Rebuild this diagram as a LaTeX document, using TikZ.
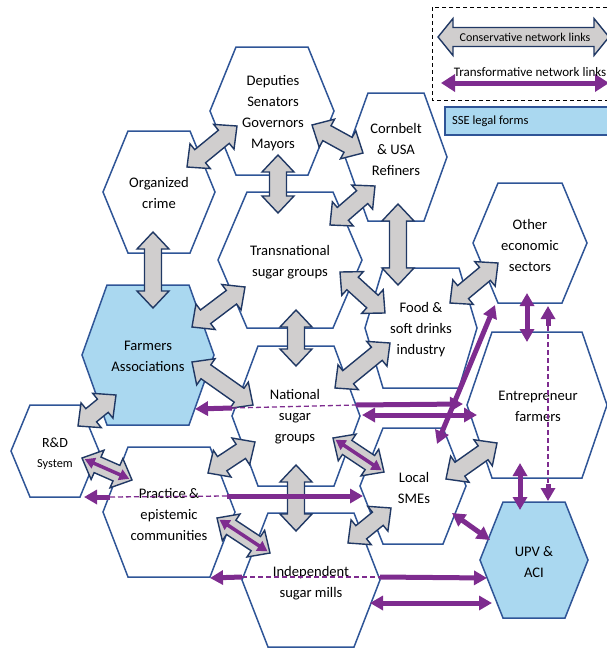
\documentclass[tikz,border=0pt]{standalone}
\usepackage{fontspec}
\setmainfont{Carlito}
\usetikzlibrary{arrows.meta,calc}

\definecolor{hexblue}{RGB}{47,85,151}
\definecolor{navyline}{RGB}{32,56,100}
\definecolor{linkgray}{RGB}{208,206,206}
\definecolor{ssefill}{RGB}{170,216,240}
\definecolor{tpurple}{RGB}{126,44,143}

% flat-topped hexagon: [style]{cx}{cy}{half width}{half height}{half top edge}
\newcommand\hexcell[6][]{%
  \draw[hexline,#1] ({#2-#4},#3) -- ({#2-#6},{#3-#5}) -- ({#2+#6},{#3-#5})
    -- ({#2+#4},#3) -- ({#2+#6},{#3+#5}) -- ({#2-#6},{#3+#5}) -- cycle;}

% double-headed block arrow between two named coordinates
\def\bhl{17pt}\def\bhw{16pt}\def\bsw{8.5pt}
\newcommand\blockarrow[3][]{%
  \begingroup#1%
  \draw[conslink] (#2)
    -- ($(#2)!\bhl!(#3)!\bhw!90:(#3)$) -- ($(#2)!\bhl!(#3)!\bsw!90:(#3)$)
    -- ($(#3)!\bhl!(#2)!\bsw!-90:(#2)$) -- ($(#3)!\bhl!(#2)!\bhw!-90:(#2)$)
    -- (#3)
    -- ($(#3)!\bhl!(#2)!\bhw!90:(#2)$) -- ($(#3)!\bhl!(#2)!\bsw!90:(#2)$)
    -- ($(#2)!\bhl!(#3)!\bsw!-90:(#3)$) -- ($(#2)!\bhl!(#3)!\bhw!-90:(#3)$)
    -- cycle;
  \endgroup}

\tikzset{
  hexline/.style={draw=hexblue, line width=1.5pt, fill=white, line join=miter},
  ssecell/.style={fill=ssefill},
  conslink/.style={draw=navyline, line width=1.4pt, fill=linkgray, line join=miter},
  lbl/.style={align=center, inner sep=0pt, font=\fontsize{14.6}{21}\selectfont},
  tl/.style={draw=tpurple, line width=5pt},
  tlboth/.style={tl, arrows={Triangle[length=13pt,width=14pt]-Triangle[length=13pt,width=14pt]}},
  tlstart/.style={tl, arrows={Triangle[length=13pt,width=14pt]-}},
  tlend/.style={tl, arrows={-Triangle[length=13pt,width=14pt]}},
  tlinner/.style={draw=tpurple, line width=3.5pt,
    arrows={Triangle[length=10pt,width=11pt]-Triangle[length=10pt,width=11pt]}},
  tldash/.style={draw=tpurple, line width=1.3pt, dash pattern=on 5pt off 3pt},
}

\begin{document}
\begin{tikzpicture}[x=1pt, y=-1pt]
\useasboundingbox (0,0) rectangle (607,651);

% ---------- hexagons ----------
\hexcell{272}{111}{62}{64}{36}
\hexcell{159}{192}{56}{61}{31}
\hexcell{396}{157}{51}{64}{28}
\hexcell{290}{260}{72}{68}{43}
\hexcell[ssecell]{148}{355}{66}{70}{41}
\hexcell{421}{328}{56}{60}{38}
\hexcell{530}{243}{57}{60}{32}
\hexcell{537}{405}{70}{73}{45}
\hexcell{296}{416}{64}{70}{38}
\hexcell{413}{486}{53}{58}{30}
\hexcell[ssecell]{534}{560}{54}{58}{31}
\hexcell{311}{580}{69}{67}{43}
\hexcell{169}{512}{66}{65}{41}
\hexcell{55}{451}{44}{46}{25}

% ---------- labels ----------
\node[lbl] (deputies) at (273,113) {Deputies\\Senators\\Governors\\Mayors};
\node[lbl] (crime) at (159,193) {Organized\\crime};
\node[lbl] (cornbelt) at (396,149) {Cornbelt\\\& USA\\Refiners};
\node[lbl] (transnat) at (290,262) {Transnational\\sugar groups};
\node[lbl] (farmers) at (148,356) {Farmers\\Associations};
\node[lbl] (food) at (421,330) {Food \&\\soft drinks\\industry};
\node[lbl] (other) at (530,245) {Other\\economic\\sectors};
\node[lbl] (entre) at (538,406) {Entrepreneur\\farmers};
\node[lbl] (national) at (295,417) {National\\sugar\\groups};
\node[lbl] (smes) at (414,488) {Local\\SMEs};
\node[lbl] (upv) at (534,562) {UPV \&\\ACI};
\node[lbl] (mills) at (311,583) {Independent\\sugar mills};
\node[lbl] (practice) at (169,514) {Practice \&\\epistemic\\communities};
\node[inner sep=0pt, font=\fontsize{14}{16}\selectfont] (rd) at (55,443) {R\&D};
\node[inner sep=0pt, font=\fontsize{12.3}{14}\selectfont] (rdsys) at (55,464) {System};

% ---------- conservative links ----------
\coordinate (g1a) at (187,167);  \coordinate (g1b) at (237,126);
\coordinate (g2a) at (312,125);  \coordinate (g2b) at (363,153);
\coordinate (g3a) at (278,155);  \coordinate (g3b) at (278,213);
\coordinate (g4a) at (330,225);  \coordinate (g4b) at (375,186);
\coordinate (g5a) at (398,204);  \coordinate (g5b) at (398,285);
\coordinate (g6a) at (153,232);  \coordinate (g6b) at (153,308);
\coordinate (g7a) at (192,327);  \coordinate (g7b) at (245,287);
\coordinate (g8a) at (340,272);  \coordinate (g8b) at (385,313);
\coordinate (g9a) at (296,310);  \coordinate (g9b) at (296,366);
\coordinate (g10a) at (192,362); \coordinate (g10b) at (253,405);
\coordinate (g11a) at (335,388); \coordinate (g11b) at (390,343);
\coordinate (g12a) at (450,303); \coordinate (g12b) at (498,263);
\coordinate (g13a) at (78,426);  \coordinate (g13b) at (116,395);
\coordinate (g14a) at (82,458);  \coordinate (g14b) at (132,480);
\coordinate (g15a) at (208,473); \coordinate (g15b) at (255,442);
\coordinate (g16a) at (217,518); \coordinate (g16b) at (270,553);
\coordinate (g17a) at (296,465); \coordinate (g17b) at (296,531);
\coordinate (g18a) at (333,438); \coordinate (g18b) at (384,472);
\coordinate (g19a) at (348,543); \coordinate (g19b) at (391,508);
\coordinate (g20a) at (446,479); \coordinate (g20b) at (497,443);

\foreach \k in {1,...,20} {\blockarrow{g\k a}{g\k b}}

% transformative links running inside conservative ones
\draw[tlinner] ($(g14a)!3pt!(g14b)$) -- ($(g14b)!3pt!(g14a)$);
\draw[tlinner] ($(g16a)!3pt!(g16b)$) -- ($(g16b)!3pt!(g16a)$);
\draw[tlinner] ($(g18a)!3pt!(g18b)$) -- ($(g18b)!3pt!(g18a)$);

% ---------- transformative links ----------
\coordinate (p1a) at (527,293); \coordinate (p1b) at (527,342);
\draw[tlboth] (p1a) -- (p1b);

\coordinate (p2a) at (548,306); \coordinate (p2b) at (548,326);
\coordinate (p2c) at (548,484); \coordinate (p2d) at (548,501);
\draw[tldash] (p2b) -- (p2c);
\draw[tlstart] (p2a) -- (p2b);
\draw[tlend] (p2c) -- (p2d);

\coordinate (p3a) at (520,463); \coordinate (p3b) at (520,510);
\draw[tlboth] (p3a) -- (p3b);

\coordinate (p4a) at (495,305); \coordinate (p4b) at (437,444);
\draw[tlboth] (p4a) -- (p4b);

\coordinate (p5a) at (195,409); \coordinate (p5b) at (232,408);
\coordinate (p5c) at (356,405); \coordinate (p5d) at (463,404);
\draw[tldash] (p5b) -- (p5c);
\draw[tlstart] (p5a) -- (p5b);
\draw[tlend] (p5c) -- (p5d);

\coordinate (p6a) at (362,415); \coordinate (p6b) at (477,415);
\draw[tlboth] (p6a) -- (p6b);

\coordinate (p7a) at (84,497); \coordinate (p7b) at (110,497);
\coordinate (p7c) at (227,496); \coordinate (p7d) at (363,496);
\draw[tldash] (p7b) -- (p7c);
\draw[tlstart] (p7a) -- (p7b);
\draw[tlend] (p7c) -- (p7d);

\coordinate (p8a) at (210,578); \coordinate (p8b) at (242,577);
\coordinate (p8c) at (380,577); \coordinate (p8d) at (487,578);
\draw[tldash] (p8b) -- (p8c);
\draw[tlstart] (p8a) -- (p8b);
\draw[tlend] (p8c) -- (p8d);

\coordinate (p9a) at (370,603); \coordinate (p9b) at (492,603);
\draw[tlboth] (p9a) -- (p9b);

\coordinate (p10a) at (452,513); \coordinate (p10b) at (490,540);
\draw[tlboth] (p10a) -- (p10b);

% ---------- legend ----------
\draw[black, line width=0.9pt, dash pattern=on 4pt off 3pt] (432,7) rectangle (612,100);
\coordinate (lg1) at (438,37); \coordinate (lg2) at (609,37);
\blockarrow[\def\bhl{15pt}\def\bhw{18.5pt}\def\bsw{9.5pt}]{lg1}{lg2}
\node[font=\fontsize{12}{14}\selectfont, inner sep=0pt] (conskey) at (525,37)
  {Conservative network links};
\coordinate (lp1) at (441,83); \coordinate (lp2) at (609,83);
\draw[tl, arrows={Triangle[length=14pt,width=17pt]-Triangle[length=14pt,width=17pt]}] (lp1) -- (lp2);
\node[font=\fontsize{13}{15}\selectfont, inner sep=0pt] (transkey) at (530,72)
  {Transformative network links};
\draw[draw=hexblue, line width=1.3pt, fill=ssefill] (445,107) rectangle (612,135);
\node[anchor=west, font=\fontsize{12.5}{15}\selectfont, inner sep=0pt] (ssekey) at (452,121)
  {SSE legal forms};
\end{tikzpicture}
\end{document}
